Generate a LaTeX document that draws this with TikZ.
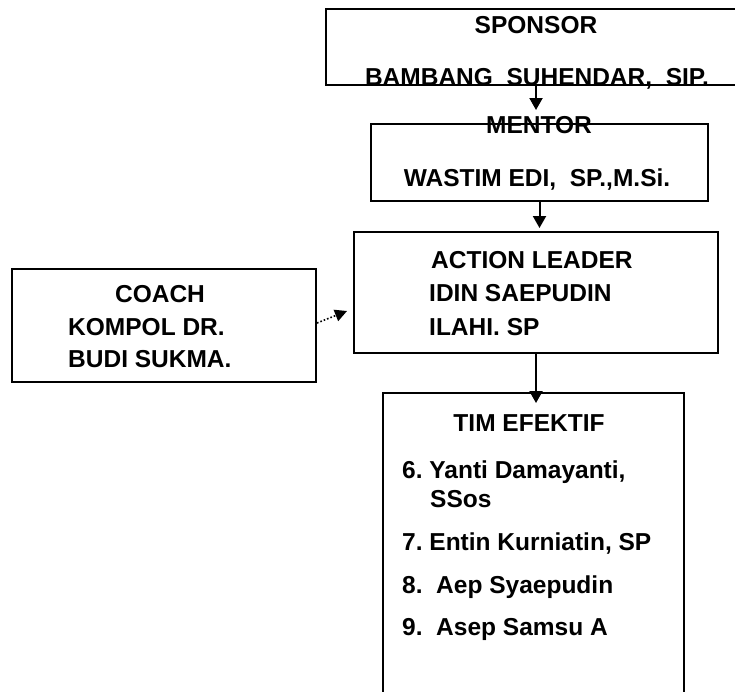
\documentclass[tikz,border=0pt]{standalone}
\usepackage{fontspec}
\setmainfont{Liberation Sans}
\usetikzlibrary{arrows.meta,positioning}
\frenchspacing

\tikzset{
  box/.style={draw,line width=2pt,anchor=north west,inner sep=0pt},
  lbl/.style={font=\fontsize{24.5}{28}\selectfont\bfseries,inner sep=0pt},
  arr/.style={line width=2pt,-{Triangle[width=13pt,length=12pt]}},
  dotarr/.style={line width=1.6pt,dotted,-{Triangle[width=12pt,length=12pt]}}
}

\begin{document}
\begin{tikzpicture}[x=1pt,y=-1pt]
\useasboundingbox (0,0) rectangle (735,691);

% boxes
\node[box,minimum width=420pt,minimum height=76pt] (sponsor) at (325,8) {};
\node[box,minimum width=337pt,minimum height=77pt] (mentor) at (370,123) {};
\node[box,minimum width=364pt,minimum height=121pt] (action) at (353,231) {};
\node[box,minimum width=304pt,minimum height=113pt] (coach) at (11,268) {};
\node[box,minimum width=301pt,minimum height=320pt] (tim) at (382,392) {};

% sponsor and mentor
\node[lbl,anchor=base] (sp1) at (536,33) {SPONSOR};
\node[lbl,anchor=base] (sp2) at (537,85) {BAMBANG~~SUHENDAR,~~SIP.};
\node[lbl,anchor=base] (mt1) at (539,133) {MENTOR};
\node[lbl,anchor=base] (mt2) at (537,186) {WASTIM EDI,~~SP.,M.Si.};

% action leader
\node[lbl,anchor=base west] (al1) at (431,268) {ACTION LEADER};
\node[lbl,anchor=base west] (al2) at (429,301) {IDIN SAEPUDIN};
\node[lbl,anchor=base west] (al3) at (429,335) {ILAHI. SP};

% coach
\node[lbl,anchor=base] (co1) at (160,302) {COACH};
\node[lbl,anchor=base west] (co2) at (68,335) {KOMPOL DR.};
\node[lbl,anchor=base west] (co3) at (68,367) {BUDI SUKMA.};

% tim efektif
\node[lbl,anchor=base] (te) at (529,431) {TIM EFEKTIF};
\def\anggota{1/402/478/{6. Yanti Damayanti,},2/430/507/{SSos},3/402/550/{7. Entin Kurniatin, SP},4/402/593/{8.~~Aep Syaepudin},5/402/635/{9.~~Asep Samsu A}}
\foreach \i/\x/\y/\element in \anggota
  \node[lbl,anchor=base west] (t\i) at (\x,\y) {\element};

% connectors
\draw[arr,shorten >=13pt] (sponsor.south) -- (sponsor.south |- mentor.north);
\draw[arr,shorten >=3pt] (mentor.south) -- (mentor.south |- action.north);
\draw[arr,shorten >=-11pt] (action.south) -- (action.south |- tim.north);
\draw[dotarr] ([yshift=2.5pt]coach.east) -- ([xshift=-6pt,yshift=-18.5pt]action.west);

\end{tikzpicture}
\end{document}
